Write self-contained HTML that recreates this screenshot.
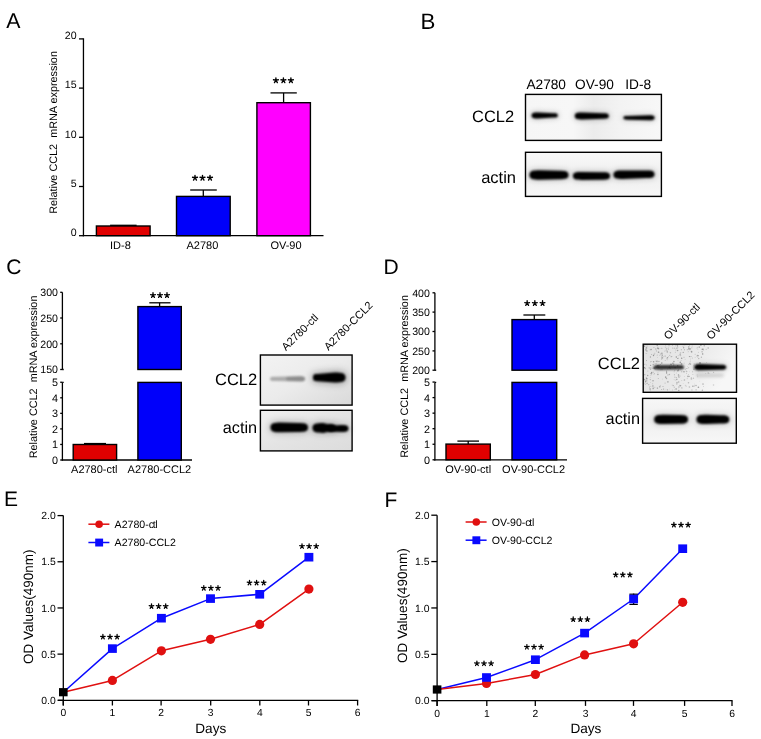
<!DOCTYPE html>
<html><head><meta charset="utf-8"><title>Figure</title>
<style>html,body{margin:0;padding:0;background:#fff;}svg{display:block;will-change:transform;}text{font-family:"Liberation Sans",sans-serif;fill:#000;text-rendering:geometricPrecision;}</style>
</head><body>
<svg width="761" height="739" viewBox="0 0 761 739" font-family="Liberation Sans, sans-serif">
<rect width="761" height="739" fill="#fff"/>
<defs>
<path id="st" d="M0,0.1L0,-2.3M0,0.1L-2.45,-0.35M0,0.1L2.45,-0.35M0,0.1L-1.45,2.5M0,0.1L1.45,2.5" stroke="#000" stroke-width="1.35" stroke-linecap="round" fill="none"/>
<filter id="b4" x="-50%" y="-200%" width="200%" height="500%"><feGaussianBlur stdDeviation="0.4"/></filter><filter id="b9" x="-50%" y="-200%" width="200%" height="500%"><feGaussianBlur stdDeviation="0.9"/></filter><filter id="b10" x="-50%" y="-200%" width="200%" height="500%"><feGaussianBlur stdDeviation="1.0"/></filter><filter id="b11" x="-50%" y="-200%" width="200%" height="500%"><feGaussianBlur stdDeviation="1.1"/></filter><filter id="b12" x="-50%" y="-200%" width="200%" height="500%"><feGaussianBlur stdDeviation="1.2"/></filter><filter id="b15" x="-50%" y="-200%" width="200%" height="500%"><feGaussianBlur stdDeviation="1.5"/></filter><filter id="b25" x="-50%" y="-200%" width="200%" height="500%"><feGaussianBlur stdDeviation="2.5"/></filter><filter id="b30" x="-50%" y="-200%" width="200%" height="500%"><feGaussianBlur stdDeviation="3.0"/></filter><filter id="b35" x="-50%" y="-200%" width="200%" height="500%"><feGaussianBlur stdDeviation="3.5"/></filter>
<linearGradient id="gB1" x1="0" y1="0" x2="1" y2="0">
 <stop offset="0" stop-color="#f6f6f6"/><stop offset="0.35" stop-color="#f7f7f7"/><stop offset="0.5" stop-color="#ececec"/><stop offset="0.7" stop-color="#f3f3f3"/><stop offset="1" stop-color="#f8f8f8"/></linearGradient>
<linearGradient id="gB2" x1="0" y1="0" x2="0" y2="1">
 <stop offset="0" stop-color="#f9f9f9"/><stop offset="0.5" stop-color="#efefef"/><stop offset="1" stop-color="#f6f6f6"/></linearGradient>
<linearGradient id="gC1" x1="0" y1="0" x2="1" y2="1">
 <stop offset="0" stop-color="#f3f3f3"/><stop offset="0.5" stop-color="#ebebeb"/><stop offset="1" stop-color="#d9d9d9"/></linearGradient>
<linearGradient id="gC2" x1="0" y1="0" x2="1" y2="1">
 <stop offset="0" stop-color="#f0f0f0"/><stop offset="0.5" stop-color="#e4e4e4"/><stop offset="1" stop-color="#dcdcdc"/></linearGradient>
<linearGradient id="gD1" x1="0" y1="0" x2="1" y2="0.3">
 <stop offset="0" stop-color="#e2e2e2"/><stop offset="0.5" stop-color="#e8e8e8"/><stop offset="0.75" stop-color="#efefef"/><stop offset="1" stop-color="#f7f7f7"/></linearGradient>
<linearGradient id="gD2" x1="0" y1="0" x2="0" y2="1">
 <stop offset="0" stop-color="#f7f7f7"/><stop offset="0.5" stop-color="#efefef"/><stop offset="1" stop-color="#f7f7f7"/></linearGradient>
</defs>
<text x="6.3" y="28.1" font-size="21.3" text-anchor="start" >A</text>
<text x="420.4" y="28.7" font-size="22.3" text-anchor="start" >B</text>
<text x="6.3" y="273.5" font-size="21" text-anchor="start" >C</text>
<text x="383.6" y="273.6" font-size="21" text-anchor="start" >D</text>
<text x="3.9" y="506" font-size="21" text-anchor="start" >E</text>
<text x="384.5" y="507.4" font-size="21" text-anchor="start" >F</text>
<line x1="83.45" y1="38.3" x2="83.45" y2="236.29999999999998" stroke="#000" stroke-width="1.3"/>
<line x1="82.85000000000001" y1="235.7" x2="323.5" y2="235.7" stroke="#000" stroke-width="1.3"/>
<line x1="79" y1="235.7" x2="83.45" y2="235.7" stroke="#000" stroke-width="1.3"/>
<text x="76.6" y="236.0" font-size="10.6" text-anchor="end" >0</text>
<line x1="79" y1="186.5" x2="83.45" y2="186.5" stroke="#000" stroke-width="1.3"/>
<text x="76.6" y="186.8" font-size="10.6" text-anchor="end" >5</text>
<line x1="79" y1="137.29999999999998" x2="83.45" y2="137.29999999999998" stroke="#000" stroke-width="1.3"/>
<text x="76.6" y="137.6" font-size="10.6" text-anchor="end" >10</text>
<line x1="79" y1="88.1" x2="83.45" y2="88.1" stroke="#000" stroke-width="1.3"/>
<text x="76.6" y="88.39999999999999" font-size="10.6" text-anchor="end" >15</text>
<line x1="79" y1="38.89999999999998" x2="83.45" y2="38.89999999999998" stroke="#000" stroke-width="1.3"/>
<text x="76.6" y="39.199999999999974" font-size="10.6" text-anchor="end" >20</text>
<rect x="96.4" y="226.0" width="53.69999999999999" height="9.699999999999989" fill="#e00000" stroke="#000" stroke-width="1.4"/>
<rect x="176.5" y="196.4" width="53.69999999999999" height="39.29999999999998" fill="#0000fa" stroke="#000" stroke-width="1.4"/>
<rect x="256.9" y="102.7" width="53.5" height="133.0" fill="#ff00ff" stroke="#000" stroke-width="1.4"/>
<line x1="110.1" y1="225.3" x2="136.6" y2="225.3" stroke="#000" stroke-width="1.3"/>
<line x1="203.3" y1="190" x2="203.3" y2="196.4" stroke="#000" stroke-width="1.3"/>
<line x1="190.2" y1="190" x2="216.8" y2="190" stroke="#000" stroke-width="1.3"/>
<line x1="283.6" y1="92.9" x2="283.6" y2="102.7" stroke="#000" stroke-width="1.3"/>
<line x1="270.5" y1="92.9" x2="296.8" y2="92.9" stroke="#000" stroke-width="1.3"/>
<use href="#st" transform="translate(195.00,177.60) scale(1.0)"/>
<use href="#st" transform="translate(202.50,177.60) scale(1.0)"/>
<use href="#st" transform="translate(210.00,177.60) scale(1.0)"/>
<use href="#st" transform="translate(275.90,80.10) scale(1.0)"/>
<use href="#st" transform="translate(283.40,80.10) scale(1.0)"/>
<use href="#st" transform="translate(290.90,80.10) scale(1.0)"/>
<text x="120.4" y="249" font-size="11" text-anchor="middle" >ID-8</text>
<text x="202.4" y="249" font-size="11" text-anchor="middle" >A2780</text>
<text x="286.0" y="249" font-size="11" text-anchor="middle" >OV-90</text>
<text transform="translate(56.7,213.8) rotate(-90)" font-size="10.85">Relative CCL2&#160; mRNA expression</text>
<text x="546.2" y="88.9" font-size="13.7" text-anchor="middle" >A2780</text>
<text x="594.5" y="88.9" font-size="13.7" text-anchor="middle" >OV-90</text>
<text x="638.2" y="88.9" font-size="13.7" text-anchor="middle" >ID-8</text>
<text x="514.2" y="121.6" font-size="16.5" text-anchor="end" >CCL2</text>
<text x="516.0" y="183.4" font-size="16.5" text-anchor="end" >actin</text>
<rect x="525.5" y="94.4" width="135.89999999999998" height="46.0" fill="url(#gB1)"/>
<path d="M531.60,115.40 C531.60,112.70 533.91,112.40 538.20,112.40 L553.18,113.30 C556.18,113.30 557.80,113.51 557.80,115.40 C557.80,117.29 556.18,117.50 553.18,117.50 L538.20,118.40 C533.91,118.40 531.60,118.10 531.60,115.40Z" fill="#000" fill-opacity="0.12" stroke="#000" stroke-opacity="0.12" stroke-width="4" filter="url(#b25)"/>
<path d="M531.60,115.40 C531.60,112.70 533.91,112.40 538.20,112.40 L553.18,113.30 C556.18,113.30 557.80,113.51 557.80,115.40 C557.80,117.29 556.18,117.50 553.18,117.50 L538.20,118.40 C533.91,118.40 531.60,118.10 531.60,115.40Z" fill="#000" fill-opacity="1" filter="url(#b9)"/>
<path d="M574.80,116.00 C574.80,112.94 577.42,112.60 582.28,112.60 L602.86,113.30 C606.72,113.30 608.80,113.57 608.80,116.00 C608.80,118.43 606.72,118.70 602.86,118.70 L582.28,119.40 C577.42,119.40 574.80,119.06 574.80,116.00Z" fill="#000" fill-opacity="0.12" stroke="#000" stroke-opacity="0.12" stroke-width="4" filter="url(#b25)"/>
<path d="M574.80,116.00 C574.80,112.94 577.42,112.60 582.28,112.60 L602.86,113.30 C606.72,113.30 608.80,113.57 608.80,116.00 C608.80,118.43 606.72,118.70 602.86,118.70 L582.28,119.40 C577.42,119.40 574.80,119.06 574.80,116.00Z" fill="#000" fill-opacity="1" filter="url(#b9)"/>
<path d="M623.30,117.80 C623.30,116.09 624.76,115.90 627.48,115.90 L649.20,115.30 C652.78,115.30 654.70,115.55 654.70,117.80 C654.70,120.05 652.78,120.30 649.20,120.30 L627.48,119.70 C624.76,119.70 623.30,119.51 623.30,117.80Z" fill="#000" fill-opacity="0.1" stroke="#000" stroke-opacity="0.1" stroke-width="4" filter="url(#b25)"/>
<path d="M623.30,117.80 C623.30,116.09 624.76,115.90 627.48,115.90 L649.20,115.30 C652.78,115.30 654.70,115.55 654.70,117.80 C654.70,120.05 652.78,120.30 649.20,120.30 L627.48,119.70 C624.76,119.70 623.30,119.51 623.30,117.80Z" fill="#000" fill-opacity="1" filter="url(#b9)"/>
<rect x="525.5" y="94.4" width="135.89999999999998" height="46.0" fill="none" stroke="#000" stroke-width="1.4"/>
<rect x="525.5" y="152.3" width="135.89999999999998" height="44.099999999999994" fill="url(#gB2)"/>
<path d="M529.50,175.00 C529.50,170.77 533.12,170.30 539.84,170.30 L559.26,170.80 C565.27,170.80 568.50,171.22 568.50,175.00 C568.50,178.78 565.27,179.20 559.26,179.20 L539.84,179.70 C533.12,179.70 529.50,179.23 529.50,175.00Z" fill="#000" fill-opacity="0.12" stroke="#000" stroke-opacity="0.12" stroke-width="4" filter="url(#b25)"/>
<path d="M529.50,175.00 C529.50,170.77 533.12,170.30 539.84,170.30 L559.26,170.80 C565.27,170.80 568.50,171.22 568.50,175.00 C568.50,178.78 565.27,179.20 559.26,179.20 L539.84,179.70 C533.12,179.70 529.50,179.23 529.50,175.00Z" fill="#000" fill-opacity="1" filter="url(#b10)"/>
<path d="M573.00,176.00 C573.00,172.49 576.00,172.10 581.58,172.10 L601.86,172.30 C607.15,172.30 610.00,172.67 610.00,176.00 C610.00,179.33 607.15,179.70 601.86,179.70 L581.58,179.90 C576.00,179.90 573.00,179.51 573.00,176.00Z" fill="#000" fill-opacity="0.12" stroke="#000" stroke-opacity="0.12" stroke-width="4" filter="url(#b25)"/>
<path d="M573.00,176.00 C573.00,172.49 576.00,172.10 581.58,172.10 L601.86,172.30 C607.15,172.30 610.00,172.67 610.00,176.00 C610.00,179.33 607.15,179.70 601.86,179.70 L581.58,179.90 C576.00,179.90 573.00,179.51 573.00,176.00Z" fill="#000" fill-opacity="1" filter="url(#b10)"/>
<path d="M613.50,174.80 C613.50,171.02 616.73,170.60 622.74,170.60 L646.14,170.40 C651.57,170.40 654.50,170.78 654.50,174.20 C654.50,177.62 651.57,178.00 646.14,178.00 L622.74,179.00 C616.73,179.00 613.50,178.58 613.50,174.80Z" fill="#000" fill-opacity="0.12" stroke="#000" stroke-opacity="0.12" stroke-width="4" filter="url(#b25)"/>
<path d="M613.50,174.80 C613.50,171.02 616.73,170.60 622.74,170.60 L646.14,170.40 C651.57,170.40 654.50,170.78 654.50,174.20 C654.50,177.62 651.57,178.00 646.14,178.00 L622.74,179.00 C616.73,179.00 613.50,178.58 613.50,174.80Z" fill="#000" fill-opacity="1" filter="url(#b10)"/>
<rect x="525.5" y="152.3" width="135.89999999999998" height="44.099999999999994" fill="none" stroke="#000" stroke-width="1.4"/>
<line x1="62.4" y1="292.3" x2="62.4" y2="369.8" stroke="#000" stroke-width="1.3"/>
<line x1="62.4" y1="369.5" x2="63.699999999999996" y2="369.5" stroke="#000" stroke-width="1.3"/>
<line x1="60.2" y1="292.3" x2="62.4" y2="292.3" stroke="#000" stroke-width="1.3"/>
<text x="58.0" y="296.2" font-size="10.6" text-anchor="end" >300</text>
<line x1="60.2" y1="318.0" x2="62.4" y2="318.0" stroke="#000" stroke-width="1.3"/>
<text x="58.0" y="321.9" font-size="10.6" text-anchor="end" >250</text>
<line x1="60.2" y1="343.8" x2="62.4" y2="343.8" stroke="#000" stroke-width="1.3"/>
<text x="58.0" y="347.7" font-size="10.6" text-anchor="end" >200</text>
<line x1="60.2" y1="369.5" x2="62.4" y2="369.5" stroke="#000" stroke-width="1.3"/>
<text x="58.0" y="373.4" font-size="10.6" text-anchor="end" >150</text>
<line x1="62.4" y1="382.4" x2="62.4" y2="460.6" stroke="#000" stroke-width="1.3"/>
<line x1="62.4" y1="382.4" x2="63.699999999999996" y2="382.4" stroke="#000" stroke-width="1.3"/>
<line x1="60.2" y1="460.0" x2="62.4" y2="460.0" stroke="#000" stroke-width="1.3"/>
<text x="58.0" y="463.9" font-size="10.8" text-anchor="end" >0</text>
<line x1="60.2" y1="444.45" x2="62.4" y2="444.45" stroke="#000" stroke-width="1.3"/>
<text x="58.0" y="448.34999999999997" font-size="10.8" text-anchor="end" >1</text>
<line x1="60.2" y1="428.9" x2="62.4" y2="428.9" stroke="#000" stroke-width="1.3"/>
<text x="58.0" y="432.79999999999995" font-size="10.8" text-anchor="end" >2</text>
<line x1="60.2" y1="413.35" x2="62.4" y2="413.35" stroke="#000" stroke-width="1.3"/>
<text x="58.0" y="417.25" font-size="10.8" text-anchor="end" >3</text>
<line x1="60.2" y1="397.8" x2="62.4" y2="397.8" stroke="#000" stroke-width="1.3"/>
<text x="58.0" y="401.7" font-size="10.8" text-anchor="end" >4</text>
<line x1="60.2" y1="382.25" x2="62.4" y2="382.25" stroke="#000" stroke-width="1.3"/>
<text x="58.0" y="386.15" font-size="10.8" text-anchor="end" >5</text>
<line x1="61.8" y1="460.0" x2="192" y2="460.0" stroke="#000" stroke-width="1.3"/>
<rect x="73.2" y="444.5" width="43.39999999999999" height="15.5" fill="#e00000" stroke="#000" stroke-width="1.4"/>
<line x1="84" y1="443.5" x2="106" y2="443.5" stroke="#000" stroke-width="1.2"/>
<line x1="95" y1="443.5" x2="95" y2="444.5" stroke="#000" stroke-width="1.3"/>
<rect x="137.9" y="306.6" width="43.400000000000006" height="62.89999999999998" fill="#0000fa" stroke="#000" stroke-width="1.4"/>
<rect x="137.9" y="382.4" width="43.400000000000006" height="77.60000000000002" fill="#0000fa" stroke="#000" stroke-width="1.4"/>
<line x1="159.6" y1="302.8" x2="159.6" y2="306.6" stroke="#000" stroke-width="1.3"/>
<line x1="149.3" y1="302.8" x2="170.5" y2="302.8" stroke="#000" stroke-width="1.3"/>
<use href="#st" transform="translate(153.00,295.00) scale(0.97)"/>
<use href="#st" transform="translate(160.00,295.00) scale(0.97)"/>
<use href="#st" transform="translate(167.00,295.00) scale(0.97)"/>
<text x="94.3" y="472.6" font-size="11" text-anchor="middle" >A2780-ctl</text>
<text x="159.4" y="472.6" font-size="11" text-anchor="middle" >A2780-CCL2</text>
<text transform="translate(36.7,458.3) rotate(-90)" font-size="10.85">Relative CCL2&#160; mRNA expression</text>
<text transform="translate(286.1,351.3) rotate(-45)" font-size="11">A2780-ctl</text>
<text transform="translate(328.4,351.0) rotate(-45)" font-size="11">A2780-CCL2</text>
<text x="257.2" y="384.6" font-size="16.5" text-anchor="end" >CCL2</text>
<text x="257.1" y="432.7" font-size="16.3" text-anchor="end" >actin</text>
<rect x="260.4" y="355" width="91.70000000000005" height="50.10000000000002" fill="url(#gC1)"/>
<path d="M270.00,378.90 C270.00,377.01 271.62,376.80 274.62,376.80 L299.28,376.30 C303.00,376.30 305.00,376.56 305.00,378.90 C305.00,381.24 303.00,381.50 299.28,381.50 L274.62,381.00 C271.62,381.00 270.00,380.79 270.00,378.90Z" fill="#000" fill-opacity="0.28" filter="url(#b12)"/>
<path d="M286.00,378.80 C286.00,377.00 287.54,376.80 290.40,376.80 L299.50,376.30 C303.07,376.30 305.00,376.55 305.00,378.80 C305.00,381.05 303.07,381.30 299.50,381.30 L290.40,380.80 C287.54,380.80 286.00,380.60 286.00,378.80Z" fill="#000" fill-opacity="0.18" filter="url(#b12)"/>
<path d="M313.00,377.60 C313.00,374.27 314.57,373.90 317.50,373.90 L334.50,372.60 C341.65,372.60 345.50,373.10 345.50,377.60 C345.50,382.10 341.65,382.60 334.50,382.60 L317.50,381.30 C314.57,381.30 313.00,380.93 313.00,377.60Z" fill="#000" fill-opacity="0.22" stroke="#000" stroke-opacity="0.22" stroke-width="4" filter="url(#b35)"/>
<path d="M313.00,377.60 C313.00,374.27 314.57,373.90 317.50,373.90 L334.50,372.60 C341.65,372.60 345.50,373.10 345.50,377.60 C345.50,382.10 341.65,382.60 334.50,382.60 L317.50,381.30 C314.57,381.30 313.00,380.93 313.00,377.60Z" fill="#000" fill-opacity="1" filter="url(#b11)"/>
<rect x="260.4" y="355" width="91.70000000000005" height="50.10000000000002" fill="none" stroke="#000" stroke-width="1.4"/>
<rect x="260.4" y="410.3" width="91.70000000000005" height="40.599999999999966" fill="url(#gC2)"/>
<path d="M270.50,427.40 C270.50,423.08 274.20,422.60 281.06,422.60 L298.10,422.90 C304.54,422.90 308.00,423.35 308.00,427.40 C308.00,431.45 304.54,431.90 298.10,431.90 L281.06,432.20 C274.20,432.20 270.50,431.72 270.50,427.40Z" fill="#000" fill-opacity="0.15" stroke="#000" stroke-opacity="0.15" stroke-width="4" filter="url(#b30)"/>
<path d="M270.50,427.40 C270.50,423.08 274.20,422.60 281.06,422.60 L298.10,422.90 C304.54,422.90 308.00,423.35 308.00,427.40 C308.00,431.45 304.54,431.90 298.10,431.90 L281.06,432.20 C274.20,432.20 270.50,431.72 270.50,427.40Z" fill="#000" fill-opacity="1" filter="url(#b11)"/>
<path d="M312.50,428.00 C312.50,423.59 316.27,423.10 323.28,423.10 L327.20,424.00 C332.92,424.00 336.00,424.40 336.00,428.00 C336.00,431.60 332.92,432.00 327.20,432.00 L323.28,432.90 C316.27,432.90 312.50,432.41 312.50,428.00Z" fill="#000" fill-opacity="0.15" stroke="#000" stroke-opacity="0.15" stroke-width="4" filter="url(#b30)"/>
<path d="M312.50,428.00 C312.50,423.59 316.27,423.10 323.28,423.10 L327.20,424.00 C332.92,424.00 336.00,424.40 336.00,428.00 C336.00,431.60 332.92,432.00 327.20,432.00 L323.28,432.90 C316.27,432.90 312.50,432.41 312.50,428.00Z" fill="#000" fill-opacity="1" filter="url(#b11)"/>
<path d="M328.00,428.60 C328.00,425.81 330.39,425.50 334.82,425.50 L340.80,425.10 C345.81,425.10 348.50,425.45 348.50,428.60 C348.50,431.75 345.81,432.10 340.80,432.10 L334.82,431.70 C330.39,431.70 328.00,431.39 328.00,428.60Z" fill="#000" fill-opacity="0.1" stroke="#000" stroke-opacity="0.1" stroke-width="4" filter="url(#b30)"/>
<path d="M328.00,428.60 C328.00,425.81 330.39,425.50 334.82,425.50 L340.80,425.10 C345.81,425.10 348.50,425.45 348.50,428.60 C348.50,431.75 345.81,432.10 340.80,432.10 L334.82,431.70 C330.39,431.70 328.00,431.39 328.00,428.60Z" fill="#000" fill-opacity="1" filter="url(#b11)"/>
<rect x="260.4" y="410.3" width="91.70000000000005" height="40.599999999999966" fill="none" stroke="#000" stroke-width="1.4"/>
<line x1="434.9" y1="292.8" x2="434.9" y2="370.4" stroke="#000" stroke-width="1.3"/>
<line x1="434.9" y1="370.2" x2="436.2" y2="370.2" stroke="#000" stroke-width="1.3"/>
<line x1="432.5" y1="292.8" x2="434.9" y2="292.8" stroke="#000" stroke-width="1.3"/>
<text x="429.9" y="296.7" font-size="10.6" text-anchor="end" >400</text>
<line x1="432.5" y1="312.1" x2="434.9" y2="312.1" stroke="#000" stroke-width="1.3"/>
<text x="429.9" y="316.0" font-size="10.6" text-anchor="end" >350</text>
<line x1="432.5" y1="331.5" x2="434.9" y2="331.5" stroke="#000" stroke-width="1.3"/>
<text x="429.9" y="335.4" font-size="10.6" text-anchor="end" >300</text>
<line x1="432.5" y1="350.9" x2="434.9" y2="350.9" stroke="#000" stroke-width="1.3"/>
<text x="429.9" y="354.79999999999995" font-size="10.6" text-anchor="end" >250</text>
<line x1="432.5" y1="370.2" x2="434.9" y2="370.2" stroke="#000" stroke-width="1.3"/>
<text x="429.9" y="374.09999999999997" font-size="10.6" text-anchor="end" >200</text>
<line x1="434.9" y1="382.4" x2="434.9" y2="460.40000000000003" stroke="#000" stroke-width="1.3"/>
<line x1="434.9" y1="382.4" x2="436.2" y2="382.4" stroke="#000" stroke-width="1.3"/>
<line x1="432.5" y1="459.8" x2="434.9" y2="459.8" stroke="#000" stroke-width="1.3"/>
<text x="430.0" y="463.7" font-size="10.8" text-anchor="end" >0</text>
<line x1="432.5" y1="444.25" x2="434.9" y2="444.25" stroke="#000" stroke-width="1.3"/>
<text x="430.0" y="448.15" font-size="10.8" text-anchor="end" >1</text>
<line x1="432.5" y1="428.7" x2="434.9" y2="428.7" stroke="#000" stroke-width="1.3"/>
<text x="430.0" y="432.59999999999997" font-size="10.8" text-anchor="end" >2</text>
<line x1="432.5" y1="413.15" x2="434.9" y2="413.15" stroke="#000" stroke-width="1.3"/>
<text x="430.0" y="417.04999999999995" font-size="10.8" text-anchor="end" >3</text>
<line x1="432.5" y1="397.6" x2="434.9" y2="397.6" stroke="#000" stroke-width="1.3"/>
<text x="430.0" y="401.5" font-size="10.8" text-anchor="end" >4</text>
<line x1="432.5" y1="382.05" x2="434.9" y2="382.05" stroke="#000" stroke-width="1.3"/>
<text x="430.0" y="385.95" font-size="10.8" text-anchor="end" >5</text>
<line x1="434.29999999999995" y1="459.8" x2="567" y2="459.8" stroke="#000" stroke-width="1.3"/>
<rect x="446" y="444.1" width="44.30000000000001" height="15.699999999999989" fill="#e00000" stroke="#000" stroke-width="1.4"/>
<line x1="468.2" y1="441.1" x2="468.2" y2="444.1" stroke="#000" stroke-width="1.3"/>
<line x1="457.4" y1="441.1" x2="479" y2="441.1" stroke="#000" stroke-width="1.3"/>
<rect x="512" y="319.6" width="44.700000000000045" height="50.599999999999966" fill="#0000fa" stroke="#000" stroke-width="1.4"/>
<rect x="512" y="382.4" width="44.700000000000045" height="77.40000000000003" fill="#0000fa" stroke="#000" stroke-width="1.4"/>
<line x1="534.3" y1="315" x2="534.3" y2="319.6" stroke="#000" stroke-width="1.3"/>
<line x1="523.4" y1="315" x2="545.3" y2="315" stroke="#000" stroke-width="1.3"/>
<use href="#st" transform="translate(527.15,303.00) scale(0.97)"/>
<use href="#st" transform="translate(534.85,303.00) scale(0.97)"/>
<use href="#st" transform="translate(542.55,303.00) scale(0.97)"/>
<text x="468.2" y="472.6" font-size="11" text-anchor="middle" >OV-90-ctl</text>
<text x="533.6" y="472.6" font-size="11" text-anchor="middle" >OV-90-CCL2</text>
<text transform="translate(407.6,457.8) rotate(-90)" font-size="10.85">Relative CCL2&#160; mRNA expression</text>
<text transform="translate(668.3,340.2) rotate(-45)" font-size="11">OV-90-ctl</text>
<text transform="translate(710.9,340.2) rotate(-45)" font-size="11">OV-90-CCL2</text>
<text x="640.0" y="369.1" font-size="16.5" text-anchor="end" >CCL2</text>
<text x="640.0" y="423.8" font-size="16.3" text-anchor="end" >actin</text>
<rect x="643.2" y="344.2" width="93.29999999999995" height="48.10000000000002" fill="url(#gD1)"/>
<g filter="url(#b4)">
<circle cx="667.3" cy="351.9" r="0.68" fill="rgb(89,89,89)" fill-opacity="0.55"/>
<circle cx="703.1" cy="349.3" r="0.80" fill="rgb(107,107,107)" fill-opacity="0.55"/>
<circle cx="646.7" cy="364.9" r="0.38" fill="rgb(91,91,91)" fill-opacity="0.55"/>
<circle cx="683.7" cy="347.7" r="0.63" fill="rgb(108,108,108)" fill-opacity="0.55"/>
<circle cx="689.4" cy="371.8" r="0.38" fill="rgb(154,154,154)" fill-opacity="0.55"/>
<circle cx="672.6" cy="389.9" r="0.37" fill="rgb(97,97,97)" fill-opacity="0.55"/>
<circle cx="664.9" cy="351.6" r="0.41" fill="rgb(119,119,119)" fill-opacity="0.55"/>
<circle cx="684.3" cy="376.4" r="0.40" fill="rgb(153,153,153)" fill-opacity="0.55"/>
<circle cx="690.0" cy="362.1" r="0.38" fill="rgb(87,87,87)" fill-opacity="0.55"/>
<circle cx="688.6" cy="367.8" r="0.62" fill="rgb(179,179,179)" fill-opacity="0.55"/>
<circle cx="666.6" cy="371.9" r="0.58" fill="rgb(118,118,118)" fill-opacity="0.55"/>
<circle cx="661.9" cy="353.3" r="0.74" fill="rgb(90,90,90)" fill-opacity="0.55"/>
<circle cx="685.4" cy="369.2" r="0.79" fill="rgb(173,173,173)" fill-opacity="0.55"/>
<circle cx="676.3" cy="373.0" r="0.39" fill="rgb(145,145,145)" fill-opacity="0.55"/>
<circle cx="674.1" cy="379.8" r="0.43" fill="rgb(142,142,142)" fill-opacity="0.55"/>
<circle cx="674.4" cy="389.3" r="0.39" fill="rgb(151,151,151)" fill-opacity="0.55"/>
<circle cx="685.3" cy="385.3" r="0.51" fill="rgb(168,168,168)" fill-opacity="0.55"/>
<circle cx="669.2" cy="367.8" r="0.75" fill="rgb(88,88,88)" fill-opacity="0.55"/>
<circle cx="691.8" cy="347.8" r="0.67" fill="rgb(167,167,167)" fill-opacity="0.55"/>
<circle cx="692.1" cy="346.0" r="0.43" fill="rgb(94,94,94)" fill-opacity="0.55"/>
<circle cx="679.5" cy="355.0" r="0.49" fill="rgb(174,174,174)" fill-opacity="0.55"/>
<circle cx="661.8" cy="363.0" r="0.79" fill="rgb(90,90,90)" fill-opacity="0.55"/>
<circle cx="656.0" cy="363.5" r="0.49" fill="rgb(97,97,97)" fill-opacity="0.55"/>
<circle cx="673.9" cy="361.5" r="0.79" fill="rgb(109,109,109)" fill-opacity="0.55"/>
<circle cx="654.9" cy="353.1" r="0.47" fill="rgb(109,109,109)" fill-opacity="0.55"/>
<circle cx="644.9" cy="383.2" r="0.44" fill="rgb(116,116,116)" fill-opacity="0.55"/>
<circle cx="644.3" cy="364.3" r="0.53" fill="rgb(152,152,152)" fill-opacity="0.55"/>
<circle cx="666.9" cy="350.8" r="0.78" fill="rgb(159,159,159)" fill-opacity="0.55"/>
<circle cx="691.2" cy="379.0" r="0.79" fill="rgb(167,167,167)" fill-opacity="0.55"/>
<circle cx="651.5" cy="374.2" r="0.38" fill="rgb(88,88,88)" fill-opacity="0.55"/>
<circle cx="687.3" cy="349.7" r="0.63" fill="rgb(148,148,148)" fill-opacity="0.55"/>
<circle cx="651.3" cy="361.7" r="0.36" fill="rgb(106,106,106)" fill-opacity="0.55"/>
<circle cx="688.2" cy="351.8" r="0.48" fill="rgb(124,124,124)" fill-opacity="0.55"/>
<circle cx="687.4" cy="366.8" r="0.41" fill="rgb(142,142,142)" fill-opacity="0.55"/>
<circle cx="650.2" cy="349.7" r="0.52" fill="rgb(113,113,113)" fill-opacity="0.55"/>
<circle cx="678.5" cy="376.8" r="0.61" fill="rgb(106,106,106)" fill-opacity="0.55"/>
<circle cx="683.1" cy="346.2" r="0.61" fill="rgb(162,162,162)" fill-opacity="0.55"/>
<circle cx="670.4" cy="352.7" r="0.74" fill="rgb(148,148,148)" fill-opacity="0.55"/>
<circle cx="683.0" cy="368.1" r="0.67" fill="rgb(158,158,158)" fill-opacity="0.55"/>
<circle cx="702.4" cy="390.3" r="0.75" fill="rgb(131,131,131)" fill-opacity="0.55"/>
<circle cx="697.3" cy="355.4" r="0.53" fill="rgb(83,83,83)" fill-opacity="0.55"/>
<circle cx="657.9" cy="372.8" r="0.52" fill="rgb(172,172,172)" fill-opacity="0.55"/>
<circle cx="659.9" cy="355.4" r="0.45" fill="rgb(106,106,106)" fill-opacity="0.55"/>
<circle cx="678.8" cy="390.3" r="0.66" fill="rgb(80,80,80)" fill-opacity="0.55"/>
<circle cx="678.5" cy="375.0" r="0.75" fill="rgb(90,90,90)" fill-opacity="0.55"/>
<circle cx="695.2" cy="354.2" r="0.57" fill="rgb(161,161,161)" fill-opacity="0.55"/>
<circle cx="667.9" cy="381.8" r="0.84" fill="rgb(130,130,130)" fill-opacity="0.55"/>
<circle cx="677.3" cy="379.2" r="0.39" fill="rgb(100,100,100)" fill-opacity="0.55"/>
<circle cx="656.2" cy="350.8" r="0.43" fill="rgb(139,139,139)" fill-opacity="0.55"/>
<circle cx="702.1" cy="351.7" r="0.84" fill="rgb(164,164,164)" fill-opacity="0.55"/>
<circle cx="645.5" cy="381.8" r="0.71" fill="rgb(93,93,93)" fill-opacity="0.55"/>
<circle cx="681.9" cy="387.9" r="0.57" fill="rgb(104,104,104)" fill-opacity="0.55"/>
<circle cx="665.1" cy="356.1" r="0.64" fill="rgb(113,113,113)" fill-opacity="0.55"/>
<circle cx="683.2" cy="383.4" r="0.38" fill="rgb(174,174,174)" fill-opacity="0.55"/>
<circle cx="669.5" cy="366.1" r="0.64" fill="rgb(146,146,146)" fill-opacity="0.55"/>
<circle cx="674.3" cy="387.2" r="0.60" fill="rgb(148,148,148)" fill-opacity="0.55"/>
<circle cx="654.9" cy="368.5" r="0.79" fill="rgb(179,179,179)" fill-opacity="0.55"/>
<circle cx="657.2" cy="345.2" r="0.75" fill="rgb(102,102,102)" fill-opacity="0.55"/>
<circle cx="654.2" cy="373.5" r="0.41" fill="rgb(87,87,87)" fill-opacity="0.55"/>
<circle cx="667.5" cy="368.8" r="0.63" fill="rgb(180,180,180)" fill-opacity="0.55"/>
<circle cx="657.8" cy="346.9" r="0.40" fill="rgb(137,137,137)" fill-opacity="0.55"/>
<circle cx="684.4" cy="380.0" r="0.81" fill="rgb(136,136,136)" fill-opacity="0.55"/>
<circle cx="667.4" cy="389.8" r="0.65" fill="rgb(105,105,105)" fill-opacity="0.55"/>
<circle cx="693.9" cy="365.8" r="0.59" fill="rgb(111,111,111)" fill-opacity="0.55"/>
<circle cx="694.3" cy="385.3" r="0.48" fill="rgb(151,151,151)" fill-opacity="0.55"/>
<circle cx="674.0" cy="363.0" r="0.51" fill="rgb(165,165,165)" fill-opacity="0.55"/>
<circle cx="661.3" cy="348.4" r="0.68" fill="rgb(180,180,180)" fill-opacity="0.55"/>
<circle cx="652.8" cy="380.7" r="0.82" fill="rgb(162,162,162)" fill-opacity="0.55"/>
<circle cx="691.5" cy="351.6" r="0.83" fill="rgb(108,108,108)" fill-opacity="0.55"/>
<circle cx="697.8" cy="349.3" r="0.43" fill="rgb(165,165,165)" fill-opacity="0.55"/>
<circle cx="681.1" cy="360.6" r="0.45" fill="rgb(120,120,120)" fill-opacity="0.55"/>
<circle cx="650.6" cy="361.8" r="0.52" fill="rgb(138,138,138)" fill-opacity="0.55"/>
<circle cx="675.7" cy="345.8" r="0.52" fill="rgb(159,159,159)" fill-opacity="0.55"/>
<circle cx="665.3" cy="389.2" r="0.41" fill="rgb(180,180,180)" fill-opacity="0.55"/>
<circle cx="660.5" cy="385.3" r="0.39" fill="rgb(114,114,114)" fill-opacity="0.55"/>
<circle cx="646.9" cy="380.8" r="0.49" fill="rgb(96,96,96)" fill-opacity="0.55"/>
<circle cx="703.0" cy="384.1" r="0.82" fill="rgb(131,131,131)" fill-opacity="0.55"/>
<circle cx="654.8" cy="387.3" r="0.64" fill="rgb(169,169,169)" fill-opacity="0.55"/>
<circle cx="667.5" cy="357.8" r="0.75" fill="rgb(103,103,103)" fill-opacity="0.55"/>
<circle cx="674.6" cy="348.3" r="0.82" fill="rgb(161,161,161)" fill-opacity="0.55"/>
<circle cx="650.4" cy="357.0" r="0.65" fill="rgb(108,108,108)" fill-opacity="0.55"/>
<circle cx="648.8" cy="384.7" r="0.58" fill="rgb(123,123,123)" fill-opacity="0.55"/>
<circle cx="688.8" cy="347.0" r="0.70" fill="rgb(94,94,94)" fill-opacity="0.55"/>
<circle cx="658.8" cy="365.5" r="0.69" fill="rgb(114,114,114)" fill-opacity="0.55"/>
<circle cx="669.0" cy="345.8" r="0.48" fill="rgb(81,81,81)" fill-opacity="0.55"/>
<circle cx="645.3" cy="368.3" r="0.84" fill="rgb(145,145,145)" fill-opacity="0.55"/>
<circle cx="678.2" cy="388.0" r="0.40" fill="rgb(163,163,163)" fill-opacity="0.55"/>
<circle cx="675.1" cy="367.8" r="0.77" fill="rgb(130,130,130)" fill-opacity="0.55"/>
<circle cx="660.5" cy="354.1" r="0.79" fill="rgb(173,173,173)" fill-opacity="0.55"/>
<circle cx="689.8" cy="363.6" r="0.52" fill="rgb(86,86,86)" fill-opacity="0.55"/>
<circle cx="704.3" cy="345.7" r="0.79" fill="rgb(135,135,135)" fill-opacity="0.55"/>
<circle cx="655.8" cy="348.9" r="0.77" fill="rgb(144,144,144)" fill-opacity="0.55"/>
<circle cx="692.3" cy="358.0" r="0.50" fill="rgb(138,138,138)" fill-opacity="0.55"/>
<circle cx="657.3" cy="357.4" r="0.35" fill="rgb(126,126,126)" fill-opacity="0.55"/>
<circle cx="661.6" cy="389.4" r="0.50" fill="rgb(125,125,125)" fill-opacity="0.55"/>
<circle cx="657.2" cy="360.4" r="0.39" fill="rgb(115,115,115)" fill-opacity="0.55"/>
<circle cx="680.2" cy="354.2" r="0.60" fill="rgb(80,80,80)" fill-opacity="0.55"/>
<circle cx="650.5" cy="382.6" r="0.42" fill="rgb(155,155,155)" fill-opacity="0.55"/>
<circle cx="647.0" cy="346.0" r="0.50" fill="rgb(109,109,109)" fill-opacity="0.55"/>
<circle cx="650.1" cy="389.1" r="0.78" fill="rgb(99,99,99)" fill-opacity="0.55"/>
<circle cx="691.3" cy="377.9" r="0.54" fill="rgb(121,121,121)" fill-opacity="0.55"/>
<circle cx="695.9" cy="367.7" r="0.66" fill="rgb(98,98,98)" fill-opacity="0.55"/>
<circle cx="647.2" cy="383.4" r="0.80" fill="rgb(160,160,160)" fill-opacity="0.55"/>
<circle cx="674.9" cy="377.2" r="0.60" fill="rgb(147,147,147)" fill-opacity="0.55"/>
<circle cx="698.2" cy="371.2" r="0.36" fill="rgb(167,167,167)" fill-opacity="0.55"/>
<circle cx="686.1" cy="386.1" r="0.69" fill="rgb(168,168,168)" fill-opacity="0.55"/>
<circle cx="690.3" cy="348.9" r="0.67" fill="rgb(93,93,93)" fill-opacity="0.55"/>
<circle cx="671.1" cy="365.8" r="0.38" fill="rgb(82,82,82)" fill-opacity="0.55"/>
<circle cx="689.1" cy="376.3" r="0.59" fill="rgb(80,80,80)" fill-opacity="0.55"/>
<circle cx="676.9" cy="348.2" r="0.82" fill="rgb(148,148,148)" fill-opacity="0.55"/>
<circle cx="650.6" cy="369.2" r="0.72" fill="rgb(140,140,140)" fill-opacity="0.55"/>
<circle cx="662.2" cy="348.4" r="0.48" fill="rgb(173,173,173)" fill-opacity="0.55"/>
<circle cx="698.5" cy="355.6" r="0.58" fill="rgb(128,128,128)" fill-opacity="0.55"/>
<circle cx="649.5" cy="386.9" r="0.49" fill="rgb(85,85,85)" fill-opacity="0.55"/>
<circle cx="688.4" cy="374.6" r="0.39" fill="rgb(98,98,98)" fill-opacity="0.55"/>
<circle cx="667.9" cy="375.0" r="0.70" fill="rgb(159,159,159)" fill-opacity="0.55"/>
<circle cx="684.9" cy="345.6" r="0.38" fill="rgb(114,114,114)" fill-opacity="0.55"/>
<circle cx="679.3" cy="377.6" r="0.49" fill="rgb(139,139,139)" fill-opacity="0.55"/>
<circle cx="677.6" cy="350.5" r="0.80" fill="rgb(105,105,105)" fill-opacity="0.55"/>
<circle cx="666.4" cy="348.9" r="0.59" fill="rgb(117,117,117)" fill-opacity="0.55"/>
<circle cx="677.0" cy="382.7" r="0.83" fill="rgb(137,137,137)" fill-opacity="0.55"/>
<circle cx="697.8" cy="357.0" r="0.65" fill="rgb(160,160,160)" fill-opacity="0.55"/>
<circle cx="680.6" cy="385.8" r="0.70" fill="rgb(109,109,109)" fill-opacity="0.55"/>
<circle cx="679.8" cy="385.3" r="0.55" fill="rgb(100,100,100)" fill-opacity="0.55"/>
<circle cx="644.3" cy="367.6" r="0.58" fill="rgb(118,118,118)" fill-opacity="0.55"/>
<circle cx="696.4" cy="364.1" r="0.41" fill="rgb(122,122,122)" fill-opacity="0.55"/>
<circle cx="644.1" cy="379.5" r="0.77" fill="rgb(95,95,95)" fill-opacity="0.55"/>
<circle cx="672.1" cy="385.0" r="0.39" fill="rgb(134,134,134)" fill-opacity="0.55"/>
<circle cx="647.7" cy="375.5" r="0.67" fill="rgb(99,99,99)" fill-opacity="0.55"/>
<circle cx="662.0" cy="357.2" r="0.61" fill="rgb(104,104,104)" fill-opacity="0.55"/>
<circle cx="699.7" cy="381.1" r="0.36" fill="rgb(177,177,177)" fill-opacity="0.55"/>
<circle cx="689.4" cy="387.0" r="0.82" fill="rgb(150,150,150)" fill-opacity="0.55"/>
<circle cx="658.6" cy="348.7" r="0.82" fill="rgb(132,132,132)" fill-opacity="0.55"/>
<circle cx="676.5" cy="379.6" r="0.67" fill="rgb(116,116,116)" fill-opacity="0.55"/>
<circle cx="679.0" cy="386.9" r="0.63" fill="rgb(101,101,101)" fill-opacity="0.55"/>
<circle cx="678.0" cy="360.8" r="0.50" fill="rgb(174,174,174)" fill-opacity="0.55"/>
<circle cx="697.2" cy="375.0" r="0.47" fill="rgb(141,141,141)" fill-opacity="0.55"/>
<circle cx="684.1" cy="363.1" r="0.43" fill="rgb(100,100,100)" fill-opacity="0.55"/>
<circle cx="649.4" cy="368.0" r="0.76" fill="rgb(150,150,150)" fill-opacity="0.55"/>
<circle cx="659.8" cy="386.7" r="0.85" fill="rgb(137,137,137)" fill-opacity="0.55"/>
<circle cx="674.8" cy="370.2" r="0.47" fill="rgb(102,102,102)" fill-opacity="0.55"/>
<circle cx="668.6" cy="349.2" r="0.47" fill="rgb(113,113,113)" fill-opacity="0.55"/>
<circle cx="706.7" cy="362.6" r="0.46" fill="rgb(114,114,114)" fill-opacity="0.55"/>
<circle cx="668.4" cy="347.9" r="0.49" fill="rgb(126,126,126)" fill-opacity="0.55"/>
<circle cx="653.1" cy="368.2" r="0.66" fill="rgb(107,107,107)" fill-opacity="0.55"/>
<circle cx="650.7" cy="386.3" r="0.54" fill="rgb(162,162,162)" fill-opacity="0.55"/>
<circle cx="676.1" cy="388.9" r="0.77" fill="rgb(82,82,82)" fill-opacity="0.55"/>
<circle cx="653.2" cy="364.6" r="0.73" fill="rgb(140,140,140)" fill-opacity="0.55"/>
<circle cx="677.7" cy="365.7" r="0.74" fill="rgb(108,108,108)" fill-opacity="0.55"/>
<circle cx="655.1" cy="369.0" r="0.69" fill="rgb(172,172,172)" fill-opacity="0.55"/>
<circle cx="694.5" cy="383.9" r="0.39" fill="rgb(179,179,179)" fill-opacity="0.55"/>
<circle cx="646.8" cy="381.0" r="0.47" fill="rgb(84,84,84)" fill-opacity="0.55"/>
<circle cx="690.5" cy="359.0" r="0.48" fill="rgb(161,161,161)" fill-opacity="0.55"/>
<circle cx="675.5" cy="380.1" r="0.40" fill="rgb(118,118,118)" fill-opacity="0.55"/>
<circle cx="681.8" cy="371.8" r="0.54" fill="rgb(108,108,108)" fill-opacity="0.55"/>
<circle cx="700.9" cy="345.1" r="0.85" fill="rgb(115,115,115)" fill-opacity="0.55"/>
<circle cx="678.2" cy="355.8" r="0.47" fill="rgb(132,132,132)" fill-opacity="0.55"/>
<circle cx="679.9" cy="376.0" r="0.56" fill="rgb(112,112,112)" fill-opacity="0.55"/>
<circle cx="660.4" cy="364.5" r="0.54" fill="rgb(143,143,143)" fill-opacity="0.55"/>
<circle cx="646.5" cy="360.6" r="0.56" fill="rgb(167,167,167)" fill-opacity="0.55"/>
<circle cx="672.5" cy="345.3" r="0.50" fill="rgb(144,144,144)" fill-opacity="0.55"/>
<circle cx="648.9" cy="367.8" r="0.45" fill="rgb(178,178,178)" fill-opacity="0.55"/>
<circle cx="698.8" cy="358.6" r="0.60" fill="rgb(103,103,103)" fill-opacity="0.55"/>
<circle cx="708.5" cy="367.3" r="0.38" fill="rgb(156,156,156)" fill-opacity="0.55"/>
<circle cx="654.5" cy="363.1" r="0.46" fill="rgb(156,156,156)" fill-opacity="0.55"/>
<circle cx="654.2" cy="347.4" r="0.38" fill="rgb(130,130,130)" fill-opacity="0.55"/>
<circle cx="676.4" cy="377.8" r="0.51" fill="rgb(94,94,94)" fill-opacity="0.55"/>
<circle cx="657.4" cy="388.1" r="0.72" fill="rgb(84,84,84)" fill-opacity="0.55"/>
<circle cx="666.5" cy="378.4" r="0.77" fill="rgb(122,122,122)" fill-opacity="0.55"/>
<circle cx="675.9" cy="350.0" r="0.39" fill="rgb(90,90,90)" fill-opacity="0.55"/>
<circle cx="669.3" cy="389.0" r="0.41" fill="rgb(177,177,177)" fill-opacity="0.55"/>
<circle cx="658.9" cy="361.4" r="0.76" fill="rgb(135,135,135)" fill-opacity="0.55"/>
<circle cx="650.3" cy="377.4" r="0.45" fill="rgb(149,149,149)" fill-opacity="0.55"/>
<circle cx="646.5" cy="347.9" r="0.81" fill="rgb(112,112,112)" fill-opacity="0.55"/>
<circle cx="658.0" cy="347.9" r="0.65" fill="rgb(126,126,126)" fill-opacity="0.55"/>
<circle cx="663.6" cy="389.1" r="0.66" fill="rgb(113,113,113)" fill-opacity="0.55"/>
<circle cx="697.7" cy="376.7" r="0.50" fill="rgb(172,172,172)" fill-opacity="0.55"/>
<circle cx="698.4" cy="387.2" r="0.82" fill="rgb(83,83,83)" fill-opacity="0.55"/>
<circle cx="703.5" cy="349.9" r="0.58" fill="rgb(179,179,179)" fill-opacity="0.55"/>
<circle cx="671.8" cy="356.5" r="0.56" fill="rgb(143,143,143)" fill-opacity="0.55"/>
<circle cx="653.6" cy="367.8" r="0.35" fill="rgb(174,174,174)" fill-opacity="0.55"/>
<circle cx="665.8" cy="376.8" r="0.43" fill="rgb(110,110,110)" fill-opacity="0.55"/>
<circle cx="667.6" cy="359.7" r="0.53" fill="rgb(180,180,180)" fill-opacity="0.55"/>
<circle cx="686.9" cy="368.5" r="0.55" fill="rgb(100,100,100)" fill-opacity="0.55"/>
<circle cx="661.8" cy="348.0" r="0.37" fill="rgb(150,150,150)" fill-opacity="0.55"/>
<circle cx="683.2" cy="352.4" r="0.56" fill="rgb(93,93,93)" fill-opacity="0.55"/>
<circle cx="650.9" cy="367.9" r="0.70" fill="rgb(137,137,137)" fill-opacity="0.55"/>
<circle cx="656.5" cy="351.1" r="0.58" fill="rgb(166,166,166)" fill-opacity="0.55"/>
<circle cx="660.9" cy="369.8" r="0.74" fill="rgb(177,177,177)" fill-opacity="0.55"/>
<circle cx="652.7" cy="383.7" r="0.50" fill="rgb(152,152,152)" fill-opacity="0.55"/>
<circle cx="663.3" cy="356.7" r="0.48" fill="rgb(136,136,136)" fill-opacity="0.55"/>
<circle cx="661.8" cy="356.3" r="0.43" fill="rgb(154,154,154)" fill-opacity="0.55"/>
<circle cx="657.6" cy="348.0" r="0.48" fill="rgb(111,111,111)" fill-opacity="0.55"/>
<circle cx="680.5" cy="355.6" r="0.75" fill="rgb(163,163,163)" fill-opacity="0.55"/>
<circle cx="677.4" cy="346.7" r="0.35" fill="rgb(109,109,109)" fill-opacity="0.55"/>
<circle cx="665.1" cy="350.5" r="0.44" fill="rgb(154,154,154)" fill-opacity="0.55"/>
<circle cx="658.0" cy="348.5" r="0.61" fill="rgb(102,102,102)" fill-opacity="0.55"/>
<circle cx="676.3" cy="357.0" r="0.74" fill="rgb(80,80,80)" fill-opacity="0.55"/>
<circle cx="651.6" cy="372.4" r="0.66" fill="rgb(107,107,107)" fill-opacity="0.55"/>
<circle cx="646.7" cy="360.6" r="0.37" fill="rgb(112,112,112)" fill-opacity="0.55"/>
<circle cx="646.8" cy="378.7" r="0.81" fill="rgb(81,81,81)" fill-opacity="0.55"/>
<circle cx="688.7" cy="348.6" r="0.37" fill="rgb(143,143,143)" fill-opacity="0.55"/>
<circle cx="683.5" cy="347.9" r="0.40" fill="rgb(130,130,130)" fill-opacity="0.55"/>
<circle cx="691.8" cy="352.1" r="0.68" fill="rgb(130,130,130)" fill-opacity="0.55"/>
<circle cx="694.1" cy="363.9" r="0.50" fill="rgb(86,86,86)" fill-opacity="0.55"/>
<circle cx="666.5" cy="371.1" r="0.53" fill="rgb(133,133,133)" fill-opacity="0.55"/>
<circle cx="645.3" cy="380.3" r="0.75" fill="rgb(162,162,162)" fill-opacity="0.55"/>
<circle cx="658.2" cy="378.5" r="0.45" fill="rgb(80,80,80)" fill-opacity="0.55"/>
<circle cx="675.3" cy="352.2" r="0.41" fill="rgb(91,91,91)" fill-opacity="0.55"/>
<circle cx="673.2" cy="385.6" r="0.58" fill="rgb(100,100,100)" fill-opacity="0.55"/>
<circle cx="653.4" cy="347.4" r="0.42" fill="rgb(130,130,130)" fill-opacity="0.55"/>
<circle cx="650.4" cy="373.6" r="0.54" fill="rgb(144,144,144)" fill-opacity="0.55"/>
<circle cx="656.4" cy="361.0" r="0.43" fill="rgb(101,101,101)" fill-opacity="0.55"/>
<circle cx="653.1" cy="388.4" r="0.84" fill="rgb(141,141,141)" fill-opacity="0.55"/>
<circle cx="666.6" cy="373.0" r="0.67" fill="rgb(91,91,91)" fill-opacity="0.55"/>
<circle cx="709.1" cy="373.5" r="0.43" fill="rgb(180,180,180)" fill-opacity="0.55"/>
<circle cx="705.7" cy="373.6" r="0.45" fill="rgb(140,140,140)" fill-opacity="0.55"/>
<circle cx="657.2" cy="355.0" r="0.55" fill="rgb(146,146,146)" fill-opacity="0.55"/>
<circle cx="655.3" cy="361.5" r="0.42" fill="rgb(172,172,172)" fill-opacity="0.55"/>
<circle cx="702.7" cy="353.9" r="0.77" fill="rgb(166,166,166)" fill-opacity="0.55"/>
<circle cx="646.7" cy="383.6" r="0.41" fill="rgb(156,156,156)" fill-opacity="0.55"/>
<circle cx="676.8" cy="384.1" r="0.74" fill="rgb(163,163,163)" fill-opacity="0.55"/>
<circle cx="674.2" cy="371.8" r="0.56" fill="rgb(164,164,164)" fill-opacity="0.55"/>
<circle cx="670.5" cy="368.2" r="0.44" fill="rgb(80,80,80)" fill-opacity="0.55"/>
<circle cx="688.6" cy="367.5" r="0.47" fill="rgb(177,177,177)" fill-opacity="0.55"/>
<circle cx="688.5" cy="382.7" r="0.77" fill="rgb(140,140,140)" fill-opacity="0.55"/>
<circle cx="672.8" cy="348.1" r="0.53" fill="rgb(126,126,126)" fill-opacity="0.55"/>
<circle cx="650.6" cy="365.3" r="0.61" fill="rgb(85,85,85)" fill-opacity="0.55"/>
<circle cx="646.9" cy="351.0" r="0.81" fill="rgb(120,120,120)" fill-opacity="0.55"/>
<circle cx="680.3" cy="362.4" r="0.83" fill="rgb(97,97,97)" fill-opacity="0.55"/>
<circle cx="645.9" cy="348.1" r="0.66" fill="rgb(168,168,168)" fill-opacity="0.55"/>
<circle cx="702.7" cy="353.9" r="0.60" fill="rgb(101,101,101)" fill-opacity="0.55"/>
<circle cx="693.4" cy="378.2" r="0.77" fill="rgb(158,158,158)" fill-opacity="0.55"/>
<circle cx="698.4" cy="352.3" r="0.49" fill="rgb(138,138,138)" fill-opacity="0.55"/>
<circle cx="654.3" cy="368.1" r="0.81" fill="rgb(106,106,106)" fill-opacity="0.55"/>
<circle cx="686.6" cy="373.3" r="0.47" fill="rgb(127,127,127)" fill-opacity="0.55"/>
<circle cx="646.7" cy="353.4" r="0.43" fill="rgb(115,115,115)" fill-opacity="0.55"/>
<circle cx="692.9" cy="386.2" r="0.74" fill="rgb(94,94,94)" fill-opacity="0.55"/>
<circle cx="699.3" cy="347.2" r="0.83" fill="rgb(137,137,137)" fill-opacity="0.55"/>
<circle cx="684.0" cy="371.7" r="0.79" fill="rgb(93,93,93)" fill-opacity="0.55"/>
<circle cx="662.1" cy="369.6" r="0.78" fill="rgb(174,174,174)" fill-opacity="0.55"/>
<circle cx="701.4" cy="357.2" r="0.64" fill="rgb(126,126,126)" fill-opacity="0.55"/>
<circle cx="667.8" cy="348.7" r="0.47" fill="rgb(158,158,158)" fill-opacity="0.55"/>
<circle cx="697.5" cy="347.2" r="0.48" fill="rgb(161,161,161)" fill-opacity="0.55"/>
<circle cx="713.5" cy="385.0" r="0.80" fill="rgb(173,173,173)" fill-opacity="0.55"/>
<circle cx="644.1" cy="346.6" r="0.42" fill="rgb(158,158,158)" fill-opacity="0.55"/>
<circle cx="689.0" cy="364.2" r="0.53" fill="rgb(86,86,86)" fill-opacity="0.55"/>
<circle cx="653.5" cy="355.5" r="0.68" fill="rgb(82,82,82)" fill-opacity="0.55"/>
<circle cx="647.9" cy="371.1" r="0.50" fill="rgb(146,146,146)" fill-opacity="0.55"/>
<circle cx="669.7" cy="355.3" r="0.64" fill="rgb(155,155,155)" fill-opacity="0.55"/>
<circle cx="653.6" cy="361.8" r="0.76" fill="rgb(100,100,100)" fill-opacity="0.55"/>
<circle cx="653.7" cy="388.1" r="0.47" fill="rgb(99,99,99)" fill-opacity="0.55"/>
<circle cx="676.5" cy="347.9" r="0.42" fill="rgb(165,165,165)" fill-opacity="0.55"/>
<circle cx="644.8" cy="374.7" r="0.63" fill="rgb(124,124,124)" fill-opacity="0.55"/>
<circle cx="686.8" cy="371.6" r="0.65" fill="rgb(146,146,146)" fill-opacity="0.55"/>
<circle cx="696.8" cy="356.4" r="0.37" fill="rgb(148,148,148)" fill-opacity="0.55"/>
<circle cx="645.8" cy="353.5" r="0.43" fill="rgb(179,179,179)" fill-opacity="0.55"/>
<circle cx="651.6" cy="373.2" r="0.68" fill="rgb(105,105,105)" fill-opacity="0.55"/>
<circle cx="654.2" cy="354.2" r="0.65" fill="rgb(144,144,144)" fill-opacity="0.55"/>
<circle cx="690.6" cy="364.1" r="0.60" fill="rgb(88,88,88)" fill-opacity="0.55"/>
<circle cx="665.6" cy="347.2" r="0.79" fill="rgb(180,180,180)" fill-opacity="0.55"/>
<circle cx="678.4" cy="369.8" r="0.54" fill="rgb(135,135,135)" fill-opacity="0.55"/>
<circle cx="697.7" cy="366.4" r="0.58" fill="rgb(108,108,108)" fill-opacity="0.55"/>
<circle cx="652.9" cy="386.0" r="0.81" fill="rgb(113,113,113)" fill-opacity="0.55"/>
<circle cx="695.2" cy="357.2" r="0.57" fill="rgb(180,180,180)" fill-opacity="0.55"/>
<circle cx="680.5" cy="352.8" r="0.80" fill="rgb(175,175,175)" fill-opacity="0.55"/>
<circle cx="658.6" cy="352.3" r="0.81" fill="rgb(104,104,104)" fill-opacity="0.55"/>
<circle cx="691.9" cy="390.0" r="0.77" fill="rgb(169,169,169)" fill-opacity="0.55"/>
<circle cx="644.5" cy="346.2" r="0.83" fill="rgb(109,109,109)" fill-opacity="0.55"/>
<circle cx="685.1" cy="359.2" r="0.46" fill="rgb(159,159,159)" fill-opacity="0.55"/>
<circle cx="686.1" cy="371.0" r="0.44" fill="rgb(84,84,84)" fill-opacity="0.55"/>
<circle cx="645.9" cy="349.9" r="0.81" fill="rgb(124,124,124)" fill-opacity="0.55"/>
<circle cx="654.0" cy="374.6" r="0.37" fill="rgb(88,88,88)" fill-opacity="0.55"/>
<circle cx="697.0" cy="348.0" r="0.53" fill="rgb(148,148,148)" fill-opacity="0.55"/>
<circle cx="708.2" cy="348.0" r="0.81" fill="rgb(129,129,129)" fill-opacity="0.55"/>
<circle cx="651.7" cy="354.5" r="0.41" fill="rgb(84,84,84)" fill-opacity="0.55"/>
<circle cx="650.3" cy="379.6" r="0.67" fill="rgb(141,141,141)" fill-opacity="0.55"/>
<circle cx="651.2" cy="349.5" r="0.73" fill="rgb(106,106,106)" fill-opacity="0.55"/>
<circle cx="665.2" cy="360.5" r="0.48" fill="rgb(124,124,124)" fill-opacity="0.55"/>
<circle cx="662.5" cy="358.0" r="0.71" fill="rgb(127,127,127)" fill-opacity="0.55"/>
<circle cx="678.3" cy="358.2" r="0.72" fill="rgb(180,180,180)" fill-opacity="0.55"/>
<circle cx="673.7" cy="365.1" r="0.74" fill="rgb(124,124,124)" fill-opacity="0.55"/>
<circle cx="677.8" cy="347.2" r="0.63" fill="rgb(171,171,171)" fill-opacity="0.55"/>
<circle cx="706.1" cy="349.2" r="0.44" fill="rgb(80,80,80)" fill-opacity="0.55"/>
<circle cx="681.7" cy="358.3" r="0.73" fill="rgb(86,86,86)" fill-opacity="0.55"/>
<circle cx="644.3" cy="367.6" r="0.60" fill="rgb(103,103,103)" fill-opacity="0.55"/>
<circle cx="713.6" cy="372.3" r="0.61" fill="rgb(153,153,153)" fill-opacity="0.55"/>
<circle cx="689.8" cy="348.7" r="0.74" fill="rgb(169,169,169)" fill-opacity="0.55"/>
<circle cx="684.4" cy="349.8" r="0.51" fill="rgb(92,92,92)" fill-opacity="0.55"/>
<circle cx="672.9" cy="363.2" r="0.80" fill="rgb(91,91,91)" fill-opacity="0.55"/>
<circle cx="674.4" cy="374.7" r="0.54" fill="rgb(118,118,118)" fill-opacity="0.55"/>
<circle cx="663.0" cy="386.5" r="0.60" fill="rgb(128,128,128)" fill-opacity="0.55"/>
<circle cx="653.1" cy="372.3" r="0.69" fill="rgb(157,157,157)" fill-opacity="0.55"/>
<circle cx="690.5" cy="361.0" r="0.43" fill="rgb(137,137,137)" fill-opacity="0.55"/>
<circle cx="691.7" cy="379.1" r="0.57" fill="rgb(178,178,178)" fill-opacity="0.55"/>
<circle cx="662.5" cy="355.6" r="0.52" fill="rgb(162,162,162)" fill-opacity="0.55"/>
<circle cx="665.7" cy="377.3" r="0.77" fill="rgb(99,99,99)" fill-opacity="0.55"/>
<circle cx="696.1" cy="389.8" r="0.65" fill="rgb(124,124,124)" fill-opacity="0.55"/>
<circle cx="655.6" cy="360.1" r="0.44" fill="rgb(173,173,173)" fill-opacity="0.55"/>
<circle cx="658.1" cy="351.9" r="0.42" fill="rgb(118,118,118)" fill-opacity="0.55"/>
<circle cx="689.9" cy="349.9" r="0.45" fill="rgb(129,129,129)" fill-opacity="0.55"/>
<circle cx="677.4" cy="345.6" r="0.78" fill="rgb(135,135,135)" fill-opacity="0.55"/>
<circle cx="693.9" cy="368.0" r="0.58" fill="rgb(98,98,98)" fill-opacity="0.55"/>
<circle cx="662.5" cy="379.0" r="0.35" fill="rgb(111,111,111)" fill-opacity="0.55"/>
<circle cx="696.0" cy="385.5" r="0.70" fill="rgb(109,109,109)" fill-opacity="0.55"/>
<circle cx="692.9" cy="374.5" r="0.51" fill="rgb(160,160,160)" fill-opacity="0.55"/>
<circle cx="694.4" cy="386.2" r="0.55" fill="rgb(171,171,171)" fill-opacity="0.55"/>
<circle cx="689.3" cy="356.5" r="0.56" fill="rgb(138,138,138)" fill-opacity="0.55"/>
<circle cx="645.4" cy="384.5" r="0.61" fill="rgb(164,164,164)" fill-opacity="0.55"/>
<circle cx="700.0" cy="362.9" r="0.84" fill="rgb(84,84,84)" fill-opacity="0.55"/>
<circle cx="662.1" cy="355.0" r="0.71" fill="rgb(105,105,105)" fill-opacity="0.55"/>
<circle cx="681.4" cy="349.7" r="0.64" fill="rgb(149,149,149)" fill-opacity="0.55"/>
<circle cx="658.8" cy="366.9" r="0.36" fill="rgb(127,127,127)" fill-opacity="0.55"/>
<circle cx="681.6" cy="363.9" r="0.82" fill="rgb(106,106,106)" fill-opacity="0.55"/>
<circle cx="689.9" cy="356.6" r="0.54" fill="rgb(87,87,87)" fill-opacity="0.55"/>
<circle cx="645.0" cy="364.3" r="0.56" fill="rgb(169,169,169)" fill-opacity="0.55"/>
<circle cx="692.6" cy="371.7" r="0.50" fill="rgb(131,131,131)" fill-opacity="0.55"/>
<circle cx="653.3" cy="380.7" r="0.75" fill="rgb(161,161,161)" fill-opacity="0.55"/>
<circle cx="657.9" cy="374.5" r="0.71" fill="rgb(98,98,98)" fill-opacity="0.55"/>
<circle cx="669.4" cy="374.4" r="0.76" fill="rgb(132,132,132)" fill-opacity="0.55"/>
<circle cx="677.7" cy="358.5" r="0.62" fill="rgb(96,96,96)" fill-opacity="0.55"/>
<circle cx="700.1" cy="366.6" r="0.47" fill="rgb(170,170,170)" fill-opacity="0.55"/>
<circle cx="671.1" cy="356.7" r="0.56" fill="rgb(103,103,103)" fill-opacity="0.55"/>
<circle cx="678.7" cy="382.1" r="0.75" fill="rgb(125,125,125)" fill-opacity="0.55"/>
<circle cx="661.6" cy="358.9" r="0.59" fill="rgb(134,134,134)" fill-opacity="0.55"/>
<circle cx="688.9" cy="348.9" r="0.80" fill="rgb(99,99,99)" fill-opacity="0.55"/>
<circle cx="703.6" cy="386.7" r="0.42" fill="rgb(124,124,124)" fill-opacity="0.55"/>
<circle cx="689.6" cy="345.7" r="0.36" fill="rgb(89,89,89)" fill-opacity="0.55"/>
<circle cx="691.2" cy="356.5" r="0.42" fill="rgb(109,109,109)" fill-opacity="0.55"/>
<circle cx="657.4" cy="365.8" r="0.74" fill="rgb(106,106,106)" fill-opacity="0.55"/>
<circle cx="708.2" cy="373.0" r="0.68" fill="rgb(150,150,150)" fill-opacity="0.55"/>
<circle cx="693.9" cy="369.4" r="0.57" fill="rgb(94,94,94)" fill-opacity="0.55"/>
<circle cx="684.0" cy="357.2" r="0.47" fill="rgb(97,97,97)" fill-opacity="0.55"/>
<circle cx="678.1" cy="370.6" r="0.59" fill="rgb(98,98,98)" fill-opacity="0.55"/>
<circle cx="687.2" cy="378.8" r="0.43" fill="rgb(121,121,121)" fill-opacity="0.55"/>
<circle cx="677.7" cy="370.9" r="0.68" fill="rgb(139,139,139)" fill-opacity="0.55"/>
<circle cx="671.0" cy="364.3" r="0.83" fill="rgb(89,89,89)" fill-opacity="0.55"/>
<circle cx="657.0" cy="361.6" r="0.67" fill="rgb(82,82,82)" fill-opacity="0.55"/>
<circle cx="687.9" cy="376.4" r="0.82" fill="rgb(122,122,122)" fill-opacity="0.55"/>
<circle cx="702.2" cy="349.3" r="0.73" fill="rgb(98,98,98)" fill-opacity="0.55"/>
<circle cx="646.4" cy="378.0" r="0.66" fill="rgb(123,123,123)" fill-opacity="0.55"/>
<circle cx="650.8" cy="375.3" r="0.52" fill="rgb(179,179,179)" fill-opacity="0.55"/>
<circle cx="681.8" cy="380.4" r="0.46" fill="rgb(135,135,135)" fill-opacity="0.55"/>
<circle cx="668.6" cy="356.6" r="0.38" fill="rgb(117,117,117)" fill-opacity="0.55"/>
<circle cx="665.1" cy="383.1" r="0.55" fill="rgb(144,144,144)" fill-opacity="0.55"/>
<circle cx="658.7" cy="367.6" r="0.41" fill="rgb(104,104,104)" fill-opacity="0.55"/>
<circle cx="666.8" cy="358.8" r="0.64" fill="rgb(161,161,161)" fill-opacity="0.55"/>
<circle cx="650.3" cy="390.8" r="0.55" fill="rgb(150,150,150)" fill-opacity="0.55"/>
<circle cx="665.6" cy="345.3" r="0.44" fill="rgb(140,140,140)" fill-opacity="0.55"/>
</g>
<path d="M653.50,367.30 C653.50,365.14 655.35,364.90 658.78,364.90 L679.16,365.10 C682.31,365.10 684.00,365.32 684.00,367.30 C684.00,369.28 682.31,369.50 679.16,369.50 L658.78,369.70 C655.35,369.70 653.50,369.46 653.50,367.30Z" fill="#000" fill-opacity="0.8" filter="url(#b10)"/>
<path d="M694.30,367.20 C694.30,364.41 696.69,364.10 701.12,364.10 L720.80,364.70 C724.38,364.70 726.30,364.95 726.30,367.20 C726.30,369.45 724.38,369.70 720.80,369.70 L701.12,370.30 C696.69,370.30 694.30,369.99 694.30,367.20Z" fill="#000" fill-opacity="0.08" stroke="#000" stroke-opacity="0.08" stroke-width="4" filter="url(#b25)"/>
<path d="M694.30,367.20 C694.30,364.41 696.69,364.10 701.12,364.10 L720.80,364.70 C724.38,364.70 726.30,364.95 726.30,367.20 C726.30,369.45 724.38,369.70 720.80,369.70 L701.12,370.30 C696.69,370.30 694.30,369.99 694.30,367.20Z" fill="#000" fill-opacity="1" filter="url(#b10)"/>
<path d="M696.00,375.50 C696.00,373.93 697.35,373.75 699.85,373.75 L720.15,373.75 C722.65,373.75 724.00,373.93 724.00,375.50 C724.00,377.07 722.65,377.25 720.15,377.25 L699.85,377.25 C697.35,377.25 696.00,377.07 696.00,375.50Z" fill="#000" fill-opacity="0.14" filter="url(#b15)"/>
<rect x="643.2" y="344.2" width="93.29999999999995" height="48.10000000000002" fill="none" stroke="#000" stroke-width="1.4"/>
<rect x="642.6" y="398.4" width="93.69999999999993" height="44.80000000000001" fill="url(#gD2)"/>
<path d="M654.20,419.40 C654.20,415.26 657.74,414.80 664.32,414.80 L678.54,415.10 C684.69,415.10 688.00,415.53 688.00,419.40 C688.00,423.27 684.69,423.70 678.54,423.70 L664.32,424.00 C657.74,424.00 654.20,423.54 654.20,419.40Z" fill="#000" fill-opacity="0.1" stroke="#000" stroke-opacity="0.1" stroke-width="4" filter="url(#b25)"/>
<path d="M654.20,419.40 C654.20,415.26 657.74,414.80 664.32,414.80 L678.54,415.10 C684.69,415.10 688.00,415.53 688.00,419.40 C688.00,423.27 684.69,423.70 678.54,423.70 L664.32,424.00 C657.74,424.00 654.20,423.54 654.20,419.40Z" fill="#000" fill-opacity="1" filter="url(#b10)"/>
<path d="M696.50,419.40 C696.50,415.26 700.04,414.80 706.62,414.80 L720.28,415.30 C726.14,415.30 729.30,415.71 729.30,419.40 C729.30,423.09 726.14,423.50 720.28,423.50 L706.62,424.00 C700.04,424.00 696.50,423.54 696.50,419.40Z" fill="#000" fill-opacity="0.1" stroke="#000" stroke-opacity="0.1" stroke-width="4" filter="url(#b25)"/>
<path d="M696.50,419.40 C696.50,415.26 700.04,414.80 706.62,414.80 L720.28,415.30 C726.14,415.30 729.30,415.71 729.30,419.40 C729.30,423.09 726.14,423.50 720.28,423.50 L706.62,424.00 C700.04,424.00 696.50,423.54 696.50,419.40Z" fill="#000" fill-opacity="1" filter="url(#b10)"/>
<rect x="642.6" y="398.4" width="93.69999999999993" height="44.80000000000001" fill="none" stroke="#000" stroke-width="1.4"/>
<line x1="63.3" y1="515.6" x2="63.3" y2="705.5" stroke="#000" stroke-width="1.3"/>
<line x1="58.0" y1="700.3" x2="358.20000000000005" y2="700.3" stroke="#000" stroke-width="1.3"/>
<line x1="57.5" y1="700.3" x2="63.3" y2="700.3" stroke="#000" stroke-width="1.3"/>
<text x="55.699999999999996" y="704.0" font-size="10.4" text-anchor="end" >0.0</text>
<line x1="57.5" y1="654.125" x2="63.3" y2="654.125" stroke="#000" stroke-width="1.3"/>
<text x="55.699999999999996" y="657.825" font-size="10.4" text-anchor="end" >0.5</text>
<line x1="57.5" y1="607.9499999999999" x2="63.3" y2="607.9499999999999" stroke="#000" stroke-width="1.3"/>
<text x="55.699999999999996" y="611.65" font-size="10.4" text-anchor="end" >1.0</text>
<line x1="57.5" y1="561.775" x2="63.3" y2="561.775" stroke="#000" stroke-width="1.3"/>
<text x="55.699999999999996" y="565.475" font-size="10.4" text-anchor="end" >1.5</text>
<line x1="57.5" y1="515.5999999999999" x2="63.3" y2="515.5999999999999" stroke="#000" stroke-width="1.3"/>
<text x="55.699999999999996" y="519.3" font-size="10.4" text-anchor="end" >2.0</text>
<line x1="63.3" y1="700.3" x2="63.3" y2="705.5" stroke="#000" stroke-width="1.3"/>
<text x="63.3" y="716.0999999999999" font-size="10.3" text-anchor="middle" >0</text>
<line x1="112.4" y1="700.3" x2="112.4" y2="705.5" stroke="#000" stroke-width="1.3"/>
<text x="112.4" y="716.0999999999999" font-size="10.3" text-anchor="middle" >1</text>
<line x1="161.1" y1="700.3" x2="161.1" y2="705.5" stroke="#000" stroke-width="1.3"/>
<text x="161.1" y="716.0999999999999" font-size="10.3" text-anchor="middle" >2</text>
<line x1="210.7" y1="700.3" x2="210.7" y2="705.5" stroke="#000" stroke-width="1.3"/>
<text x="210.7" y="716.0999999999999" font-size="10.3" text-anchor="middle" >3</text>
<line x1="259.8" y1="700.3" x2="259.8" y2="705.5" stroke="#000" stroke-width="1.3"/>
<text x="259.8" y="716.0999999999999" font-size="10.3" text-anchor="middle" >4</text>
<line x1="308.5" y1="700.3" x2="308.5" y2="705.5" stroke="#000" stroke-width="1.3"/>
<text x="308.5" y="716.0999999999999" font-size="10.3" text-anchor="middle" >5</text>
<line x1="357.6" y1="700.3" x2="357.6" y2="705.5" stroke="#000" stroke-width="1.3"/>
<text x="357.6" y="716.0999999999999" font-size="10.3" text-anchor="middle" >6</text>
<text x="210.8" y="732.6999999999999" font-size="13.6" text-anchor="middle" >Days</text>
<text transform="translate(32.7,664.1) rotate(-90)" font-size="13.5">OD Values(490nm)</text>
<polyline points="63.3,692.2 112.4,648.6 161.4,618.2 210.5,598.6 259.7,594.3 308.9,557.2" fill="none" stroke="#0a0aff" stroke-width="1.5" stroke-linejoin="round"/>
<polyline points="63.3,692.2 112.4,680.4 161.4,650.8 210.5,639.3 259.7,624.4 308.9,589.1" fill="none" stroke="#e01010" stroke-width="1.5" stroke-linejoin="round"/>
<circle cx="112.4" cy="680.4" r="4.6" fill="#e01010"/>
<circle cx="161.4" cy="650.8" r="4.6" fill="#e01010"/>
<circle cx="210.5" cy="639.3" r="4.6" fill="#e01010"/>
<circle cx="259.7" cy="624.4" r="4.6" fill="#e01010"/>
<circle cx="308.9" cy="589.1" r="4.6" fill="#e01010"/>
<rect x="107.95" y="644.30" width="8.9" height="8.6" fill="#0a0aff"/>
<rect x="156.95" y="613.90" width="8.9" height="8.6" fill="#0a0aff"/>
<rect x="206.05" y="594.30" width="8.9" height="8.6" fill="#0a0aff"/>
<rect x="255.25" y="590.00" width="8.9" height="8.6" fill="#0a0aff"/>
<rect x="304.45" y="552.90" width="8.9" height="8.6" fill="#0a0aff"/>
<rect x="59.00" y="688.10" width="8.6" height="8.2" fill="#000"/>
<use href="#st" transform="translate(102.90,636.60) scale(0.93)"/>
<use href="#st" transform="translate(110.00,636.60) scale(0.93)"/>
<use href="#st" transform="translate(117.10,636.60) scale(0.93)"/>
<use href="#st" transform="translate(151.50,606.00) scale(0.93)"/>
<use href="#st" transform="translate(158.60,606.00) scale(0.93)"/>
<use href="#st" transform="translate(165.70,606.00) scale(0.93)"/>
<use href="#st" transform="translate(203.80,587.80) scale(0.93)"/>
<use href="#st" transform="translate(210.90,587.80) scale(0.93)"/>
<use href="#st" transform="translate(218.00,587.80) scale(0.93)"/>
<use href="#st" transform="translate(249.50,582.50) scale(0.93)"/>
<use href="#st" transform="translate(256.60,582.50) scale(0.93)"/>
<use href="#st" transform="translate(263.70,582.50) scale(0.93)"/>
<use href="#st" transform="translate(302.00,545.90) scale(0.93)"/>
<use href="#st" transform="translate(309.10,545.90) scale(0.93)"/>
<use href="#st" transform="translate(316.20,545.90) scale(0.93)"/>
<line x1="88.4" y1="524.2" x2="109.4" y2="524.2" stroke="#e01010" stroke-width="1.5"/>
<circle cx="99.1" cy="524.2" r="3.8" fill="#e01010"/>
<line x1="88.4" y1="542.5" x2="109.4" y2="542.5" stroke="#0a0aff" stroke-width="1.5"/>
<rect x="95.2" y="538.6" width="7.9" height="7.9" fill="#0a0aff"/>
<text x="114.6" y="527.7" font-size="10.6">A2780-c<tspan dx="-1.3">t</tspan><tspan dx="-0.4">l</tspan></text>
<text x="114.6" y="546.0" font-size="10.6" text-anchor="start" >A2780-CCL2</text>
<line x1="437.1" y1="515.2" x2="437.1" y2="705.9000000000001" stroke="#000" stroke-width="1.3"/>
<line x1="431.8" y1="700.7" x2="732.6" y2="700.7" stroke="#000" stroke-width="1.3"/>
<line x1="431.3" y1="700.7" x2="437.1" y2="700.7" stroke="#000" stroke-width="1.3"/>
<text x="429.5" y="704.4000000000001" font-size="10.4" text-anchor="end" >0.0</text>
<line x1="431.3" y1="654.325" x2="437.1" y2="654.325" stroke="#000" stroke-width="1.3"/>
<text x="429.5" y="658.0250000000001" font-size="10.4" text-anchor="end" >0.5</text>
<line x1="431.3" y1="607.95" x2="437.1" y2="607.95" stroke="#000" stroke-width="1.3"/>
<text x="429.5" y="611.6500000000001" font-size="10.4" text-anchor="end" >1.0</text>
<line x1="431.3" y1="561.575" x2="437.1" y2="561.575" stroke="#000" stroke-width="1.3"/>
<text x="429.5" y="565.2750000000001" font-size="10.4" text-anchor="end" >1.5</text>
<line x1="431.3" y1="515.2" x2="437.1" y2="515.2" stroke="#000" stroke-width="1.3"/>
<text x="429.5" y="518.9000000000001" font-size="10.4" text-anchor="end" >2.0</text>
<line x1="437.1" y1="700.7" x2="437.1" y2="705.9000000000001" stroke="#000" stroke-width="1.3"/>
<text x="437.1" y="716.5" font-size="10.3" text-anchor="middle" >0</text>
<line x1="486.8" y1="700.7" x2="486.8" y2="705.9000000000001" stroke="#000" stroke-width="1.3"/>
<text x="486.8" y="716.5" font-size="10.3" text-anchor="middle" >1</text>
<line x1="535.3" y1="700.7" x2="535.3" y2="705.9000000000001" stroke="#000" stroke-width="1.3"/>
<text x="535.3" y="716.5" font-size="10.3" text-anchor="middle" >2</text>
<line x1="585.5" y1="700.7" x2="585.5" y2="705.9000000000001" stroke="#000" stroke-width="1.3"/>
<text x="585.5" y="716.5" font-size="10.3" text-anchor="middle" >3</text>
<line x1="633.5" y1="700.7" x2="633.5" y2="705.9000000000001" stroke="#000" stroke-width="1.3"/>
<text x="633.5" y="716.5" font-size="10.3" text-anchor="middle" >4</text>
<line x1="684.6" y1="700.7" x2="684.6" y2="705.9000000000001" stroke="#000" stroke-width="1.3"/>
<text x="684.6" y="716.5" font-size="10.3" text-anchor="middle" >5</text>
<line x1="732.0" y1="700.7" x2="732.0" y2="705.9000000000001" stroke="#000" stroke-width="1.3"/>
<text x="732.0" y="716.5" font-size="10.3" text-anchor="middle" >6</text>
<text x="585.9" y="733.1" font-size="13.6" text-anchor="middle" >Days</text>
<text transform="translate(407.0,662.9) rotate(-90)" font-size="13.5">OD Values(490nm)</text>
<polyline points="437.1,689.5 486.5,677.5 535.4,659.7 584.6,633.1 633.6,599.0 682.7,548.7" fill="none" stroke="#0a0aff" stroke-width="1.5" stroke-linejoin="round"/>
<polyline points="437.1,689.5 486.5,683.5 535.4,674.5 584.6,654.9 633.6,643.8 682.7,602.3" fill="none" stroke="#e01010" stroke-width="1.5" stroke-linejoin="round"/>
<circle cx="486.5" cy="683.5" r="4.6" fill="#e01010"/>
<circle cx="535.4" cy="674.5" r="4.6" fill="#e01010"/>
<circle cx="584.6" cy="654.9" r="4.6" fill="#e01010"/>
<circle cx="633.6" cy="643.8" r="4.6" fill="#e01010"/>
<circle cx="682.7" cy="602.3" r="4.6" fill="#e01010"/>
<line x1="633.6" y1="593.6" x2="633.6" y2="605.0" stroke="#000" stroke-width="1.4"/>
<line x1="629.4" y1="594.2" x2="637.8000000000001" y2="594.2" stroke="#000" stroke-width="1.2"/>
<line x1="629.4" y1="604.4" x2="637.8000000000001" y2="604.4" stroke="#000" stroke-width="1.2"/>
<rect x="482.05" y="673.20" width="8.9" height="8.6" fill="#0a0aff"/>
<rect x="530.95" y="655.40" width="8.9" height="8.6" fill="#0a0aff"/>
<rect x="580.15" y="628.80" width="8.9" height="8.6" fill="#0a0aff"/>
<rect x="629.15" y="594.70" width="8.9" height="8.6" fill="#0a0aff"/>
<rect x="678.25" y="544.40" width="8.9" height="8.6" fill="#0a0aff"/>
<rect x="432.80" y="685.40" width="8.6" height="8.2" fill="#000"/>
<use href="#st" transform="translate(476.90,663.20) scale(0.93)"/>
<use href="#st" transform="translate(484.00,663.20) scale(0.93)"/>
<use href="#st" transform="translate(491.10,663.20) scale(0.93)"/>
<use href="#st" transform="translate(526.90,646.70) scale(0.93)"/>
<use href="#st" transform="translate(534.00,646.70) scale(0.93)"/>
<use href="#st" transform="translate(541.10,646.70) scale(0.93)"/>
<use href="#st" transform="translate(573.20,619.10) scale(0.93)"/>
<use href="#st" transform="translate(580.30,619.10) scale(0.93)"/>
<use href="#st" transform="translate(587.40,619.10) scale(0.93)"/>
<use href="#st" transform="translate(615.70,574.50) scale(0.93)"/>
<use href="#st" transform="translate(622.80,574.50) scale(0.93)"/>
<use href="#st" transform="translate(629.90,574.50) scale(0.93)"/>
<use href="#st" transform="translate(673.90,524.60) scale(0.93)"/>
<use href="#st" transform="translate(681.00,524.60) scale(0.93)"/>
<use href="#st" transform="translate(688.10,524.60) scale(0.93)"/>
<line x1="465.6" y1="522.0" x2="486.6" y2="522.0" stroke="#e01010" stroke-width="1.5"/>
<circle cx="476.3" cy="522.0" r="3.8" fill="#e01010"/>
<line x1="465.6" y1="540.2" x2="486.6" y2="540.2" stroke="#0a0aff" stroke-width="1.5"/>
<rect x="472.4" y="536.3" width="7.9" height="7.9" fill="#0a0aff"/>
<text x="491.8" y="525.5" font-size="10.6">OV-90-c<tspan dx="-1.3">t</tspan><tspan dx="-0.4">l</tspan></text>
<text x="491.8" y="543.7" font-size="10.6" text-anchor="start" >OV-90-CCL2</text>
</svg>
</body></html>
